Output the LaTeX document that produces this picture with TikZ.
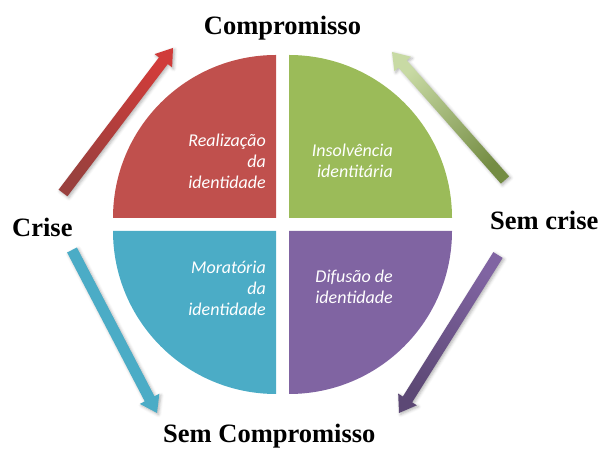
\documentclass[tikz,border=0pt]{standalone}
\usepackage{fontspec}
\setmainfont{Liberation Serif}
\newfontfamily\calibri{Carlito}
\usetikzlibrary{calc, shadows.blur}

\definecolor{realred}{HTML}{C0504D}
\definecolor{insolvgreen}{HTML}{9BBB59}
\definecolor{moratcyan}{HTML}{4BACC6}
\definecolor{difuspurple}{HTML}{8064A2}

\begin{document}
\begin{tikzpicture}[x=1pt, y=1pt,
    axislabel/.style={font={\fontsize{26.5}{30}\selectfont\bfseries}, inner sep=0},
    quadtext/.style={font={\calibri\itshape\fontsize{18}{21}\selectfont}, text=white, align=right, anchor=east, inner sep=0},
    fatarrow/.style={blur shadow={shadow xshift=1.5pt, shadow yshift=-1.5pt, shadow blur radius=3pt, shadow opacity=30}},
    redarrow/.style={top color=realred!75!red, bottom color=realred!80!black, shading angle=-37},
    greenarrow/.style={top color=insolvgreen!55!white, bottom color=insolvgreen!75!black, shading angle=41},
    cyanarrow/.style={fill=moratcyan},
    purplearrow/.style={top color=difuspurple!72!black, bottom color=difuspurple, shading angle=148}
]

\useasboundingbox (0,0) rectangle (599,449);

\def\r{163}
\def\g{6.5}
\def\cx{282.5}
\def\cy{224.5}

% four quarters
\fill[realred] (\cx-\g,\cy+\g) -- ++(-\r,0) arc[start angle=180, end angle=90, radius=\r] -- cycle;
\fill[insolvgreen] (\cx+\g,\cy+\g) -- ++(0,\r) arc[start angle=90, end angle=0, radius=\r] -- cycle;
\fill[moratcyan] (\cx-\g,\cy-\g) -- ++(-\r,0) arc[start angle=180, end angle=270, radius=\r] -- cycle;
\fill[difuspurple] (\cx+\g,\cy-\g) -- ++(\r,0) arc[start angle=0, end angle=-90, radius=\r] -- cycle;

\node[quadtext] (realiz) at (266,288) {Realização\\da\\identidade};
\node[quadtext] (insolv) at (393,288.5) {Insolvência\\identitária};
\node[quadtext] (morat) at (266,161) {Moratória\\da\\identidade};
\node[quadtext] (difus) at (393,162) {Difusão de\\identidade};

\node[axislabel, anchor=base] (compr) at (282.5,414) {Compromisso};
\node[axislabel, anchor=base west] (crise) at (12,212) {Crise};
\node[axislabel, anchor=base west] (semcrise) at (490,219) {Sem crise};
\node[axislabel, anchor=base west] (semcompr) at (163,6) {Sem Compromisso};

\coordinate (redtail) at (63,256);
\coordinate (redtip) at (173,401);
\coordinate (greentail) at (505,269);
\coordinate (greentip) at (392,397);
\coordinate (cyantail) at (72,199);
\coordinate (cyantip) at (157,36);
\coordinate (purpletail) at (498,194);
\coordinate (purpletip) at (399,36);

% block arrows
\foreach \from/\to/\look in {redtail/redtip/redarrow, greentail/greentip/greenarrow,
    cyantail/cyantip/cyanarrow, purpletail/purpletip/purplearrow}
{
    \coordinate (h) at ($(\to)!16pt!(\from)$);
    \path[fatarrow, \look] ($(\from)!5.5pt!90:(\to)$) -- ($(h)!5.5pt!90:(\to)$)
        -- ($(h)!11pt!90:(\to)$) -- (\to) -- ($(h)!11pt!-90:(\to)$)
        -- ($(h)!5.5pt!-90:(\to)$) -- ($(\from)!5.5pt!-90:(\to)$) -- cycle;
}

\end{tikzpicture}
\end{document}
